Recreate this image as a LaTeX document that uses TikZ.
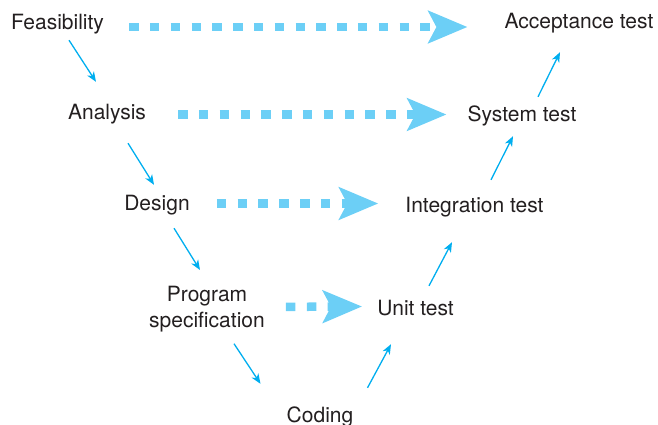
\documentclass[tikz,border=0pt]{standalone}
\usepackage{fontspec}
\setmainfont{TeX Gyre Heros}
\usepackage{tikz}
\usetikzlibrary{arrows.meta}

\definecolor{vline}{RGB}{0,174,239}
\definecolor{vdots}{RGB}{108,207,246}
\definecolor{vtext}{RGB}{35,31,32}

\begin{document}
\begin{tikzpicture}[
    x=1pt, y=-1pt,
    word/.style={inner sep=0pt, font=\fontsize{21}{26}\selectfont, text=vtext},
    stage/.style={word, text height=15pt, text depth=0pt, anchor=base},
    flow/.style={draw=vline, line width=1.3pt, -{Stealth[length=10pt, width=8pt, inset=3pt]}},
    check/.style={draw=vdots, line width=8.5pt, dash pattern=on 9.5pt off 11.3pt, -{Stealth[length=39pt, width=32pt, inset=8pt]}}
  ]
  \useasboundingbox (0,0) rectangle (658,424);

  % left leg
  \node[stage] (feas) at (57.5,29) {Feasibility};
  \node[stage] (analysis) at (107,119) {Analysis};
  \node[stage] (design) at (157,210) {Design};
  \node[word, align=center, anchor=north] (prog) at (207,286) {Program\\specification};
  \node[stage] (coding) at (320,422) {Coding};

  % right leg
  \node[stage] (unit) at (415.5,315) {Unit test};
  \node[stage] (integ) at (474.5,212) {Integration test};
  \node[stage] (sys) at (522,121) {System test};
  \node[stage] (acc) at (579,28) {Acceptance test};

  % down and up
  \draw[flow] ([shift={(11.5,11)}]feas.south) -- ([shift={(-11,-22)}]analysis.north);
  \draw[flow] ([shift={(21,24)}]analysis.south) -- ([shift={(-3,-10)}]design.north);
  \draw[flow] ([shift={(17,18)}]design.south) -- ([shift={(-7,-16)}]prog.north);
  \draw[flow] ([shift={(27,11.4)}]prog.south) -- ([shift={(-59.5,-23)}]coding.north);
  \draw[flow] ([shift={(47.5,-19)}]coding.north) -- ([shift={(-24.5,29)}]unit.south);
  \draw[flow] ([shift={(13.5,-14)}]unit.north) -- ([shift={(-22.5,30)}]integ.south);
  \draw[flow] ([shift={(16.5,-17)}]integ.north) -- ([shift={(-9,15)}]sys.south);
  \draw[flow] ([shift={(16,-9)}]sys.north) -- ([shift={(-19,24)}]acc.south);

  % across
  \draw[check] ([shift={(25,5.5)}]feas.east) -- ([shift={(-37,6.5)}]acc.west);
  \draw[check] ([shift={(32,3)}]analysis.east) -- ([shift={(-21,1)}]sys.west);
  \draw[check] ([shift={(27,1)}]design.east) -- ([shift={(-27,-1)}]integ.west);
  \draw[check] ([shift={(21,-2.3)}]prog.east) -- ([shift={(-15,-1)}]unit.west);
\end{tikzpicture}
\end{document}
